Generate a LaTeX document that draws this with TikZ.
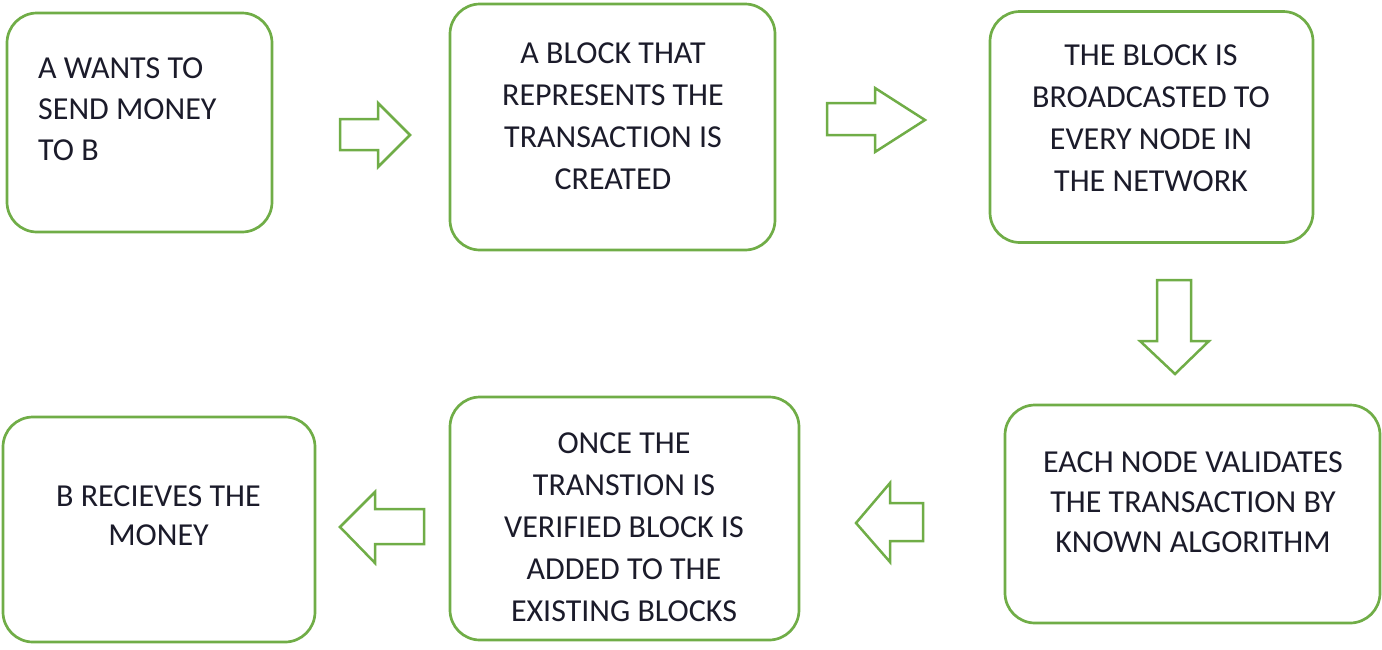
\documentclass[tikz,border=0pt]{standalone}
\usepackage{fontspec}
\setmainfont{Carlito}
\definecolor{boxgreen}{HTML}{70AD47}
\definecolor{ink}{HTML}{1B1B2A}

\begin{document}
\begin{tikzpicture}[x=1pt,y=-1pt,
    caja/.style={
        rectangle,draw=boxgreen,line width=2.7pt,rounded corners=30pt,
        fill=white,inner sep=0pt
    },
    letra/.style={
        inner sep=0pt,text=ink,align=center,
        font=\fontsize{32}{42}\selectfont
    },
    flecha/.style={draw=boxgreen,line width=2.5pt,fill=white,line join=miter}]
    \useasboundingbox (0,0) rectangle (1382,649);

    \node [caja, minimum width=265pt, minimum height=219pt] (quiere)   at (139.5,122.5) {};
    \node [caja, minimum width=325pt, minimum height=246pt] (bloque)   at (612.5,127) {};
    \node [caja, minimum width=323pt, minimum height=231pt] (difunde)  at (1151.5,127) {};
    \node [caja, minimum width=375pt, minimum height=218pt] (valida)   at (1192.5,514) {};
    \node [caja, minimum width=349pt, minimum height=243pt] (agrega)   at (624.5,518.5) {};
    \node [caja, minimum width=312pt, minimum height=225pt] (recibe)   at (159,529.5) {};

    \node [letra, align=left, anchor=west, font=\fontsize{32}{41}\selectfont] (tquiere) at (38,109)
        {A WANTS TO\\SEND MONEY\\TO B};
    \node [letra] (tbloque)  at (613,116)   {A BLOCK THAT\\REPRESENTS THE\\TRANSACTION IS\\CREATED};
    \node [letra] (tdifunde) at (1151,118)  {THE BLOCK IS\\BROADCASTED TO\\EVERY NODE IN\\THE NETWORK};
    \node [letra, font=\fontsize{32}{40}\selectfont] (tvalida) at (1193,502)
        {EACH NODE VALIDATES\\THE TRANSACTION BY\\KNOWN ALGORITHM};
    \node [letra] (tagrega)  at (624,527.5) {ONCE THE\\TRANSTION IS\\VERIFIED BLOCK IS\\ADDED TO THE\\EXISTING BLOCKS};
    \node [letra, font=\fontsize{32}{39}\selectfont] (trecibe) at (158.5,515.5)
        {B RECIEVES THE\\MONEY};

    \draw [flecha] (340,119) -- (378,119) -- (378,103) -- (410,135) -- (378,167) -- (378,150) -- (340,150) -- cycle;
    \draw [flecha] (827,103) -- (875,103) -- (875,88) -- (925,120) -- (875,152) -- (875,135) -- (827,135) -- cycle;
    \draw [flecha] (1157,280) -- (1191,280) -- (1191,341) -- (1209,341) -- (1175,374) -- (1140,341) -- (1157,341) -- cycle;
    \draw [flecha] (923,503) -- (890,503) -- (890,483) -- (856,523) -- (890,562) -- (890,541) -- (923,541) -- cycle;
    \draw [flecha] (424,509) -- (375,509) -- (375,492) -- (340,527) -- (375,563) -- (375,544) -- (424,544) -- cycle;
\end{tikzpicture}
\end{document}
